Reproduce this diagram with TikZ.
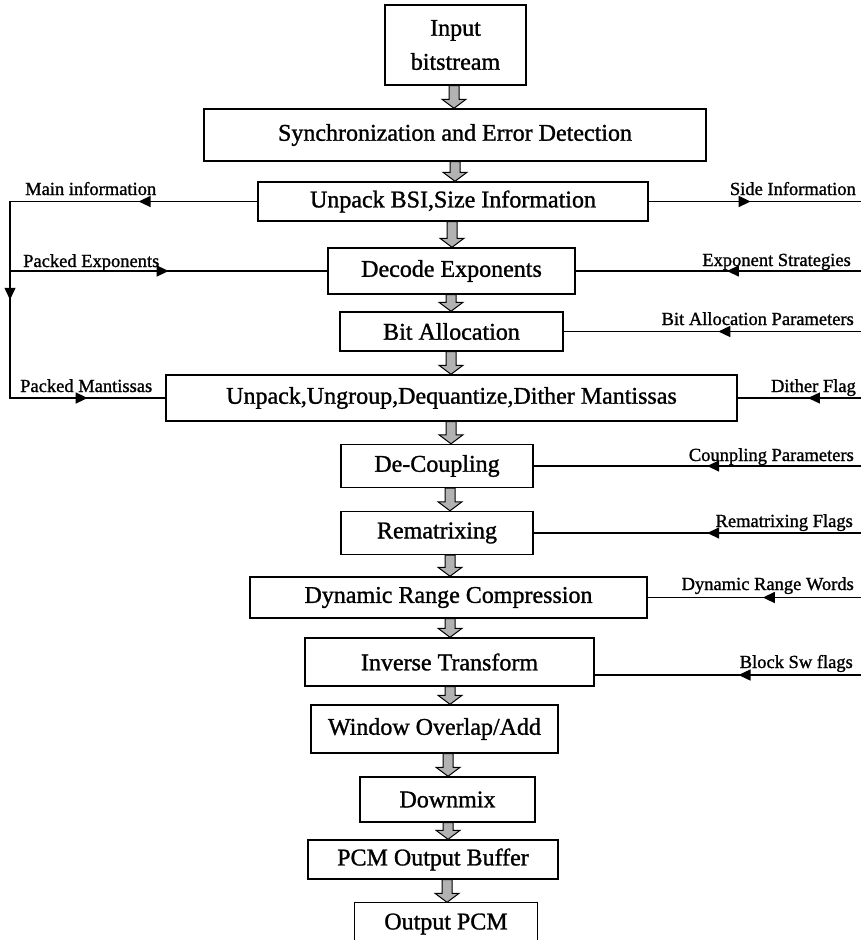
\documentclass[tikz,border=0pt]{standalone}
\usepackage{fontspec}
\setmainfont{Liberation Serif}[BoldFont={Liberation Serif}, BoldFeatures={FakeBold=1.2}]
\usetikzlibrary{arrows.meta,decorations.markings,calc}

\tikzset{
  box/.style={draw, line width=1.4pt, inner sep=0pt, font=\fontsize{24}{34}\selectfont\bfseries, align=center},
  lab/.style={inner sep=0pt, font=\fontsize{18.5}{20}\selectfont\bfseries},
  sig/.style={line width=1.4pt, line cap=rect},
  arrat/.style={postaction={decorate},decoration={markings,mark=at position #1 with {\arrow{Triangle[length=12pt,width=11pt]}}}},
  fat/.style={draw=black, line width=1pt, fill=gray!60},
}
\newcommand\fatarrow[3]{%
  \path[fat] let \p1=(#1.south), \p2=(#2.north) in
    ({#3pt-5pt},{\y1}) -- ({#3pt+5pt},{\y1}) -- ({#3pt+5pt},{\y2+9pt}) --
    ({#3pt+12pt},{\y2+9pt}) -- ({#3pt},{\y2}) -- ({#3pt-12pt},{\y2+9pt}) --
    ({#3pt-5pt},{\y2+9pt}) -- cycle;}

\begin{document}
\begin{tikzpicture}[x=1pt,y=-1pt]
\useasboundingbox (0,0) rectangle (861,940);

\coordinate (lx) at (10,0);
\coordinate (rx) at (861,0);

% boxes
\node[box, minimum width=141, minimum height=80] (in) at (455.5,45) {Input\\bitstream};
\node[box, minimum width=502, minimum height=52] (sync) at (455,135) {Synchronization and Error Detection};
\node[box, minimum width=390, minimum height=39] (bsi) at (453,201.5) {Unpack BSI,Size Information};
\node[box, minimum width=247, minimum height=46] (dexp) at (451.5,271) {Decode Exponents};
\node[box, minimum width=223, minimum height=39] (bit) at (451.5,331.5) {Bit Allocation};
\node[box, minimum width=571, minimum height=46] (unp) at (451.5,398) {Unpack,Ungroup,Dequantize,Dither Mantissas};
\node[box, minimum width=192, minimum height=43] (dec) at (437,466) {De-Coupling};
\node[box, minimum width=192, minimum height=43] (remat) at (437,533) {Rematrixing};
\node[box, minimum width=397, minimum height=41] (drc) at (448.5,597.5) {Dynamic Range Compression};
\node[box, minimum width=289, minimum height=48] (inv) at (449.5,662) {Inverse Transform};
\node[box, minimum width=247, minimum height=48] (win) at (434.5,729) {Window Overlap/Add};
\node[box, minimum width=175, minimum height=45] (down) at (447.5,799.5) {Downmix};
\node[box, minimum width=250, minimum height=39] (pcm) at (433,859.5) {PCM Output Buffer};
\node[box, draw=none, minimum width=182, minimum height=42] (out) at (446,924) {Output PCM};
\draw[line width=1.4pt] (out.south west) -- (out.north west) -- (out.north east) -- (out.south east);

% thick flow arrows
\fatarrow{in}{sync}{454}
\fatarrow{sync}{bsi}{455}
\fatarrow{bsi}{dexp}{452}
\fatarrow{dexp}{bit}{451}
\fatarrow{bit}{unp}{451}
\fatarrow{unp}{dec}{451}
\fatarrow{dec}{remat}{450}
\fatarrow{remat}{drc}{450}
\fatarrow{drc}{inv}{450}
\fatarrow{inv}{win}{450}
\fatarrow{win}{down}{448}
\fatarrow{down}{pcm}{448}
\fatarrow{pcm}{out}{447}

% left side signals
\draw[sig, arrat=0.48] (bsi.west) -- (bsi.west -| lx);
\draw[sig, arrat=0.5] (bsi.west -| lx) -- (unp.west -| lx);
\draw[sig, arrat=0.5] (unp.west -| lx) -- (unp.west);
\draw[sig, arrat=0.5] (dexp.west -| lx) -- (dexp.west);

\node[lab, anchor=base west] (lmain) at (25,195) {Main information};
\node[lab, anchor=base west] (lpexp) at (23,267) {Packed Exponents};
\node[lab, anchor=base west] (lpman) at (20,392) {Packed Mantissas};

% right side signals
\draw[sig, arrat=0.48] (bsi.east) -- (bsi.east -| rx);
\draw[sig, arrat=0.47] (dexp.east -| rx) -- (dexp.east);
\draw[sig, arrat=0.48] (bit.east -| rx) -- (bit.east);
\draw[sig, arrat=0.43] (unp.east -| rx) -- (unp.east);
\draw[sig, arrat=0.47] (dec.east -| rx) -- (dec.east);
\draw[sig, arrat=0.47] (remat.east -| rx) -- (remat.east);
\draw[sig, arrat=0.46] (drc.east -| rx) -- (drc.east);
\draw[sig, arrat=0.46] ([yshift=-13pt]inv.east -| rx) -- ([yshift=-13pt]inv.east);

\node[lab, anchor=base east] (rside) at (856,195) {Side Information};
\node[lab, anchor=base east] (rexp) at (851,266) {Exponent Strategies};
\node[lab, anchor=base east] (rbit) at (854,325) {Bit Allocation Parameters};
\node[lab, anchor=base east] (rdith) at (856,392) {Dither Flag};
\node[lab, anchor=base east] (rcoup) at (854,461) {Counpling Parameters};
\node[lab, anchor=base east] (rrem) at (853,527) {Rematrixing Flags};
\node[lab, anchor=base east] (rdrw) at (854,590) {Dynamic Range Words};
\node[lab, anchor=base east] (rblk) at (853,668) {Block Sw flags};
\end{tikzpicture}
\end{document}
